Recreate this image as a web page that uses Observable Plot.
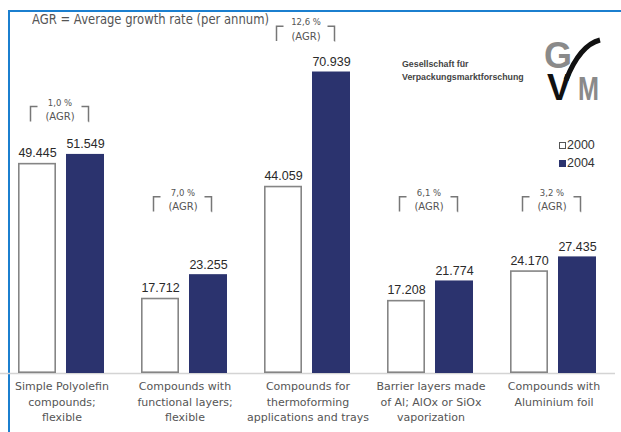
<!DOCTYPE html>
<html>
<head>
<meta charset="utf-8">
<script src="https://cdn.jsdelivr.net/npm/d3@7"></script>
<script src="https://cdn.jsdelivr.net/npm/@observablehq/plot@0.6"></script>
<style>
  html, body { margin: 0; padding: 0; background: #fff; }
  #wrap { position: relative; width: 621px; height: 432px; overflow: hidden; }
  #chart { position: absolute; left: 0; top: 0; }
  .frame { position: absolute; left: 8px; top: 10px; width: 640px; height: 460px;
           border-top: 2px solid #1b7fcf; border-left: 2px solid #1b7fcf; }
  .title { position: absolute; left: 32px; top: 11px; font-family: "DejaVu Sans", sans-serif;
           font-size: 14.5px; color: #555; white-space: nowrap; transform: scaleX(0.8); transform-origin: 0 0; }
  .org { position: absolute; left: 402px; top: 58px; font-family: "Liberation Sans", Arial, sans-serif;
         font-weight: bold; font-size: 8.8px; line-height: 13px; color: #444; white-space: nowrap; }
  .legend { position: absolute; left: 559px; font-family: "Liberation Sans", Arial, sans-serif; font-size: 12.5px; color: #333; }
  .legend span.sw { display: inline-block; width: 7px; height: 7px; margin-right: 1px; vertical-align: 0px; box-sizing: border-box; }
  #logo { position: absolute; left: 536px; top: 28px; }
</style>
</head>
<body>
<div id="wrap">
  <div class="frame"></div>
  <div class="title">AGR = Average growth rate (per annum)</div>
  <div class="org">Gesellschaft für<br>Verpackungsmarktforschung</div>
  <svg id="logo" width="80" height="82" viewBox="0 0 80 82">
    <text x="8" y="40" font-family="Liberation Sans, Arial, sans-serif" font-weight="bold" font-size="36" fill="#8a8a8a">G</text>
    <path d="M30 52 C 38 32, 48 16, 64 12" fill="none" stroke="#111" stroke-width="5"/>
    <text x="11" y="72" font-family="Liberation Sans, Arial, sans-serif" font-weight="bold" font-size="36" fill="#111">V</text>
    <text x="42" y="72" font-family="Liberation Sans, Arial, sans-serif" font-weight="bold" font-size="33" fill="#8a8a8a" textLength="21" lengthAdjust="spacingAndGlyphs">M</text>
  </svg>
  <div id="chart"></div>
  <div class="legend" id="lg0" style="top:138px"></div>
  <div class="legend" id="lg1" style="top:156px"></div>
</div>
<script>
// ---- data ----
const categories = [
  "Simple Polyolefin\ncompounds;\nflexible",
  "Compounds with\nfunctional layers;\nflexible",
  "Compounds for\nthermoforming\napplications and trays",
  "Barrier layers made\nof Al; AlOx or SiOx\nvaporization",
  "Compounds with\nAluminium foil"
];
const years = [2000, 2004];
const values2000 = [49.445, 17.712, 44.059, 17.208, 24.170];
const values2004 = [51.549, 23.255, 70.939, 21.774, 27.435];
const agrRates = ["1,0 %", "7,0 %", "12,6 %", "6,1 %", "3,2 %"];

// ---- layout / styles ----
const navy = "#2b336e";
const agrLevel = [62.7, 41.5, 81.6, 41.5, 41.5]; // bracket top, in y units
const bracketDepth = 3.5;           // y units (~15px)
const bw = 7, bh = 14.9;            // bracket arm sizes in px (for the dash pattern)
const font = "DejaVu Sans, sans-serif";

const rows = [];
categories.forEach((c, i) => {
  rows.push({cat: c, year: years[0], value: values2000[i]});
  rows.push({cat: c, year: years[1], value: values2004[i]});
});
const agrRows = categories.map((c, i) => ({cat: c, rate: agrRates[i], level: agrLevel[i]}));
const fmt = d3.format(".3f");

const plot = Plot.plot({
  width: 621,
  height: 432,
  marginTop: 33,
  marginBottom: 59,
  marginLeft: 0,
  marginRight: 6,
  style: {background: "transparent", overflow: "visible"},
  fx: {domain: categories, padding: 0, axis: null},
  x: {domain: years, paddingInner: 0.2083, paddingOuter: 0.385, axis: null},
  y: {domain: [0, 80], axis: null},
  color: {type: "ordinal", domain: years, range: ["#ffffff", navy]},
  marks: [
    Plot.ruleY([0], {stroke: "#d4d4d4", strokeWidth: 1.5}),
    Plot.barY(rows.filter(d => d.year === 2000), {fx: "cat", x: "year", y: "value", fill: "year",
      stroke: "#858585", strokeWidth: 1.6, inset: 0.8}),
    Plot.barY(rows.filter(d => d.year === 2004), {fx: "cat", x: "year", y: "value", fill: "year"}),
    Plot.text(rows, {fx: "cat", x: "year", y: "value", text: d => fmt(d.value), lineAnchor: "bottom", dy: -6,
      fontSize: 12.5, fill: "#2a2a2a", fontFamily: "Liberation Sans, Arial, sans-serif"}),
    // AGR annotations
    Plot.text(agrRows, {fx: "cat", y: "level", text: "rate", dy: -4, dx: -2, fontSize: 8.5, fill: "#555", fontFamily: font}),
    Plot.text(agrRows, {fx: "cat", y: "level", text: () => "(AGR)", dy: 10, dx: -2, fontSize: 10, fill: "#555", fontFamily: font}),
    // left bracket: top + left side of a small rect
    Plot.rect(agrRows, {fx: "cat", y1: "level", y2: d => d.level - bracketDepth, insetLeft: 30.5, insetRight: 85.5,
      fill: "none", stroke: "#777", strokeWidth: 1.5, strokeDasharray: `${bw},${bh + bw},${bh}`}),
    // right bracket: top + right side
    Plot.rect(agrRows, {fx: "cat", y1: "level", y2: d => d.level - bracketDepth, insetLeft: 81.5, insetRight: 34.5,
      fill: "none", stroke: "#777", strokeWidth: 1.5, strokeDasharray: `${bw + bh},${bw + bh}`}),
    // category labels
    Plot.text(categories, {fx: d => d, text: d => d, frameAnchor: "bottom", lineAnchor: "top", dy: 6,
      fontSize: 11, lineHeight: 1.4, fill: "#555", fontFamily: font})
  ]
});
document.getElementById("chart").appendChild(plot);

// legend from the color scale
const col = plot.scale("color");
years.forEach((y, i) => {
  const el = document.getElementById("lg" + i);
  const fill = col.apply(y);
  el.innerHTML = `<span class="sw" style="background:${fill};border:1.3px solid ${i === 0 ? '#555' : fill}"></span>${y}`;
});
</script>
</body>
</html>
